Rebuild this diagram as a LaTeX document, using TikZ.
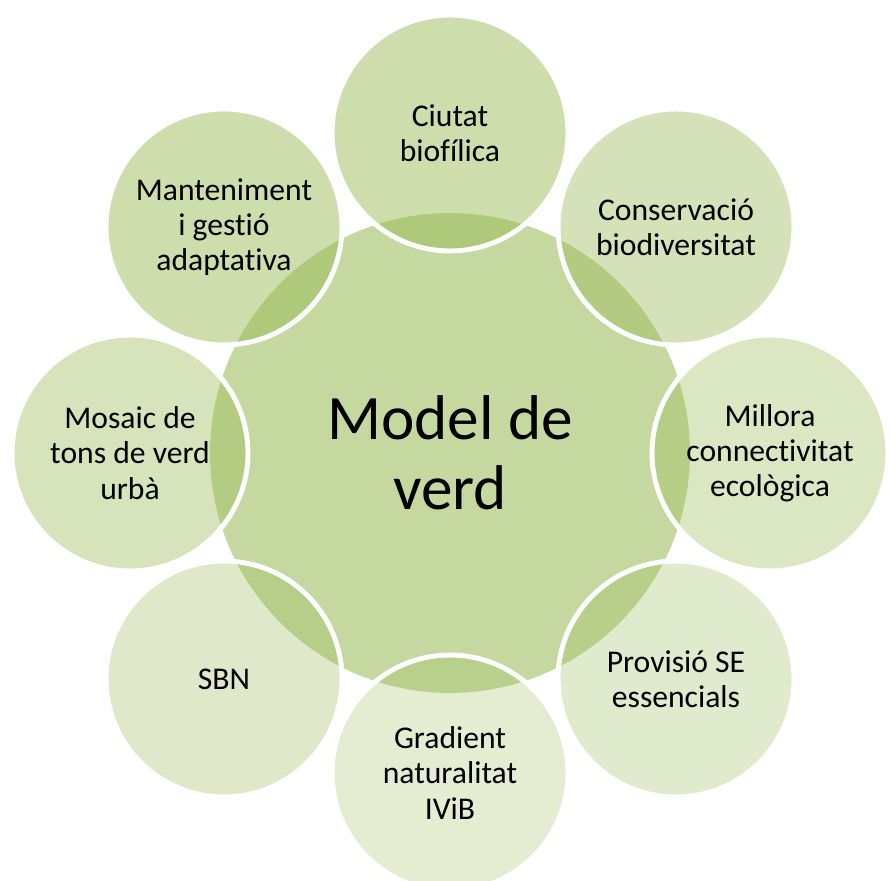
\documentclass[tikz,border=0pt]{standalone}
\usepackage{fontspec}
\setmainfont{Carlito}[Ligatures=NoCommon]
\usetikzlibrary{positioning}

\definecolor{olivegreen}{HTML}{9BBB59}

\tikzset{
  centre/.style={circle,fill=olivegreen!58!white,draw=none,inner sep=0pt,minimum size=9.6cm,
    align=center,font=\fontsize{36}{40}\selectfont},
  petal/.style={circle,fill=olivegreen,draw=white,line width=2.8pt,inner sep=0pt,minimum size=4.72cm,
    align=center,font=\fontsize{18}{20}\selectfont}
}

\begin{document}
\begin{tikzpicture}[x=0.02cm,y=-0.02cm]
\useasboundingbox (0,0) rectangle (892,881);
\node[centre] (model) at (450,453) {Model de\\verd};

\node[petal,fill opacity=0.5,text opacity=1] (biofilica) at (450,133) {Ciutat\\biofílica};
\node[petal,fill opacity=0.42,text opacity=1] (biodiv) at (676,227) {Conservació\\biodiversitat};
\node[petal,fill opacity=0.36,text opacity=1] (connect) at (770,453) {Millora\\connectivitat\\ecològica};
\node[petal,fill opacity=0.31,text opacity=1] (provisio) at (676,679) {Provisió SE\\essencials};
\node[petal,fill opacity=0.27,text opacity=1] (gradient) at (450,773) {Gradient\\naturalitat\\IViB};
\node[petal,fill opacity=0.32,text opacity=1] (sbn) at (224,679) {SBN};
\node[petal,fill opacity=0.41,text opacity=1] (mosaic) at (130,453) {Mosaic de\\tons de verd\\urbà};
\node[petal,fill opacity=0.5,text opacity=1] (manteniment) at (224,227) {Manteniment\\i gestió\\adaptativa};

\end{tikzpicture}
\end{document}
